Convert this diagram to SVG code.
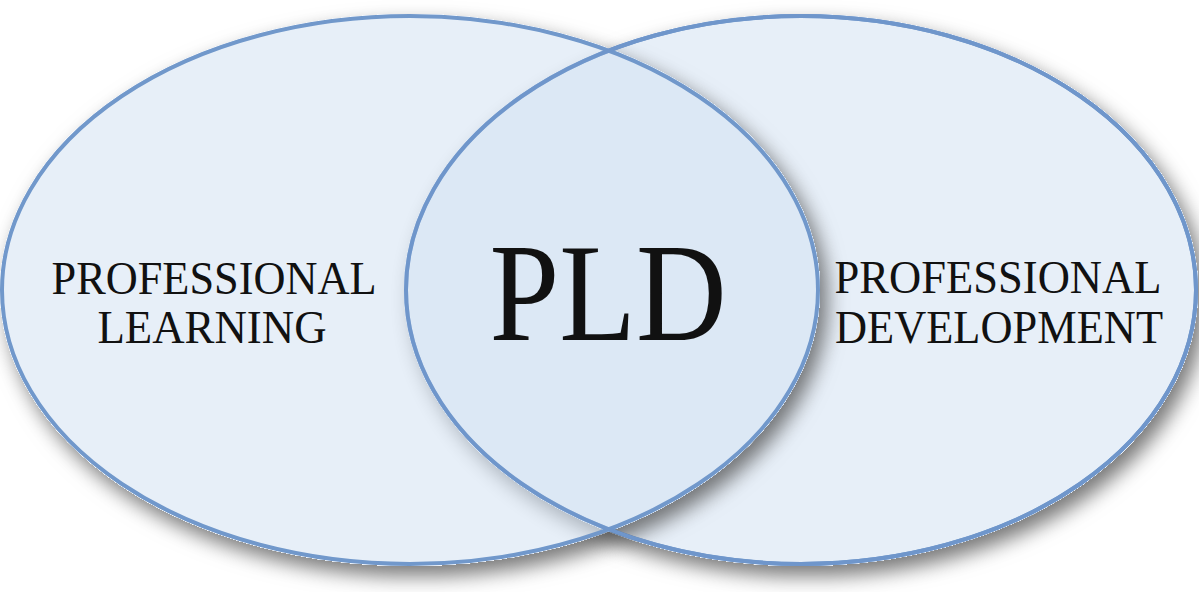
<svg xmlns="http://www.w3.org/2000/svg" xmlns:xlink="http://www.w3.org/1999/xlink" width="1199" height="592" viewBox="0 0 1199 592">
  <defs>
    <filter id="sh" x="-5%" y="-8%" width="115%" height="125%" color-interpolation-filters="sRGB">
      <feColorMatrix in="SourceAlpha" type="matrix" values="0 0 0 0 0  0 0 0 0 0  0 0 0 0 0  0 0 0 20 0" result="a"/>
      <feGaussianBlur in="a" stdDeviation="10" result="b"/>
      <feOffset in="b" dx="7" dy="10" result="o"/>
      <feComposite in="o" in2="a" operator="out" result="s"/>
      <feFlood flood-color="#4a4a4a" flood-opacity="0.75"/>
      <feComposite in2="s" operator="in" result="sc"/>
      <feMerge>
        <feMergeNode in="sc"/>
        <feMergeNode in="SourceGraphic"/>
      </feMerge>
    </filter>
    <ellipse id="rightShape" cx="801" cy="290" rx="395" ry="274"/>
    <ellipse id="leftShape" cx="410" cy="290" rx="408" ry="274"/>
  </defs>
  <style>
    .circle { fill: #d3e2f2; fill-opacity: 0.55; stroke: #7198cb; stroke-width: 4; }
    .outline { fill: none; stroke: #6f96cb; stroke-width: 4; }
    .label { font-family: "Liberation Serif", "Times New Roman", serif; fill: #111111; text-anchor: middle; }
    .small { font-size: 46px; }
    .big { font-size: 140px; }
  </style>
  <rect width="1199" height="592" fill="#ffffff"/>
  <g id="professional-development">
    <use xlink:href="#rightShape" class="circle" filter="url(#sh)"/>
  </g>
  <g id="professional-learning">
    <use xlink:href="#leftShape" class="circle" filter="url(#sh)"/>
    <use xlink:href="#rightShape" class="outline"/>
  </g>
  <g id="labels">
    <text class="label small" x="214" y="294" textLength="325" lengthAdjust="spacingAndGlyphs">PROFESSIONAL</text>
    <text class="label small" x="212" y="343" textLength="229" lengthAdjust="spacingAndGlyphs">LEARNING</text>
    <text class="label big" x="608" y="340" textLength="237" lengthAdjust="spacingAndGlyphs">PLD</text>
    <text class="label small" x="998" y="293" textLength="327" lengthAdjust="spacingAndGlyphs">PROFESSIONAL</text>
    <text class="label small" x="999" y="343" textLength="328" lengthAdjust="spacingAndGlyphs">DEVELOPMENT</text>
  </g>
  <g id="connectors"/>
</svg>
